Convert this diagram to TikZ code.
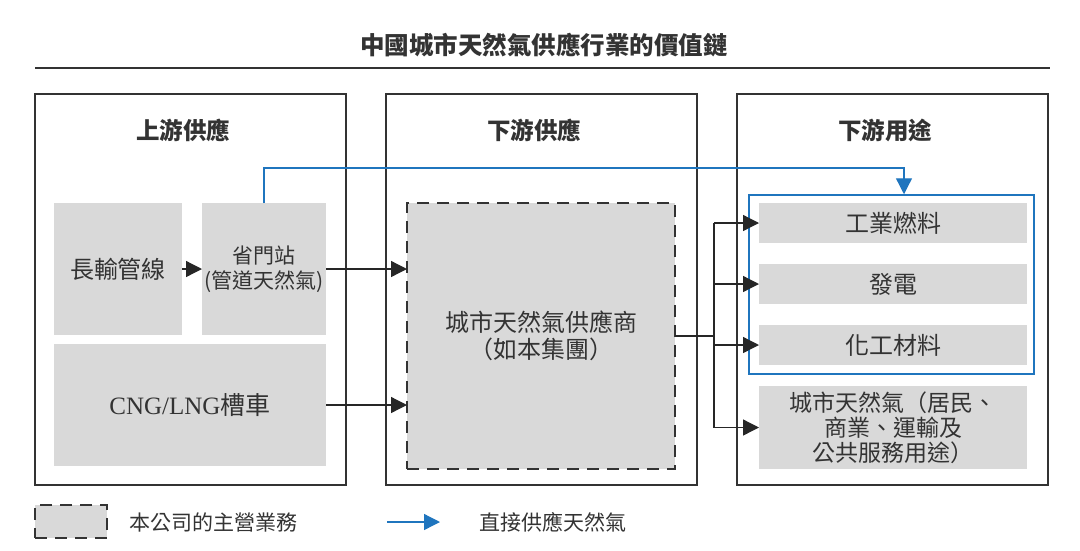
\documentclass[tikz,border=0pt]{standalone}
\usepackage{fontspec}
\setmainfont{Liberation Serif}
\newfontfamily\cjk{Noto Sans CJK TC}
\usetikzlibrary{positioning,calc,arrows.meta}
\definecolor{boxgray}{HTML}{D9D9D9}
\definecolor{inkgray}{HTML}{333333}
\definecolor{feedblue}{HTML}{1F75BE}
\tikzset{panel/.style={draw=inkgray,line width=1.3pt,minimum width=311pt,minimum height=391pt,inner sep=0pt,outer sep=0pt}  }
\tikzset{gbox/.style={fill=boxgray,text=inkgray,align=center,inner sep=0pt,outer sep=0pt,font=\cjk\fontsize{24}{27}\selectfont}  }
\tikzset{mainbiz/.style={gbox,draw=inkgray,line width=2pt,dash pattern=on 12pt off 8pt}  }
\tikzset{head/.style={text=inkgray,font=\cjk\bfseries\fontsize{23.5}{26}\selectfont}  }
\tikzset{flow/.style={-{Triangle[length=16pt,width=16pt]},draw=black!85,line width=1.3pt}  }
\tikzset{feed/.style={-{Triangle[length=16pt,width=16pt]},draw=feedblue,line width=1.3pt}  }

\begin{document}
\begin{tikzpicture}[x=1pt,y=-1pt]
	\useasboundingbox (0,0) rectangle (1080,550);
	\node[head,font=\cjk\bfseries\fontsize{24.5}{27}\selectfont] (title) at (544,45) {中國城市天然氣供應行業的價值鏈};
	\draw[inkgray,line width=2pt] (35,68) -- (1050,68);

		\node[panel] (up) at (190.5,289.5) {};
		\node[panel] (mid) at (541.5,289.5) {};
		\node[panel] (down) at (892.5,289.5) {};
		\node[head] (uph) at (183,130) {上游供應};
		\node[head] (midh) at (534,130) {下游供應};
		\node[head] (downh) at (885,130) {下游用途};

		% upstream
		\node[gbox,minimum width=128pt,minimum height=132pt] (pipe) at (118,269) {長輸管線};
		\node[gbox,minimum width=124pt,minimum height=132pt,font=\cjk\fontsize{21}{25}\selectfont] (gate) at (264,269) {省門站\\(管道天然氣)};
		\node[gbox,minimum width=272pt,minimum height=122pt,font=\cjk\fontsize{25}{28}\selectfont] (tank) at (190,405) {{\rmfamily CNG/LNG}槽車};

		% group
		\node[mainbiz,minimum width=268pt,minimum height=266pt] (city) at (541,336) {城市天然氣供應商\\（如本集團）};

		% uses
		\node[draw=feedblue,line width=1.5pt,minimum width=285pt,minimum height=179pt,inner sep=0pt] (direct) at (891.5,284.5) {};
		\node[gbox,minimum width=268pt,minimum height=40pt] (ind) at (893,223) {工業燃料};
		\node[gbox,minimum width=268pt,minimum height=40pt] (power) at (893,284) {發電};
		\node[gbox,minimum width=268pt,minimum height=40pt] (chem) at (893,345) {化工材料};
		\node[gbox,minimum width=268pt,minimum height=83pt,font=\cjk\fontsize{23}{25}\selectfont] (urban) at (893,427.5) {城市天然氣（居民、\\商業、運輸及\\公共服務用途）};

		\draw[flow] (pipe) -- (gate);
		\draw[flow] (gate.east) -- (gate.east -| city.west);
		\draw[flow] (tank.east) -- (tank.east -| city.west);
		\coordinate (split) at ([xshift=39pt]city.east);
		\draw[draw=black!85,line width=1.3pt] (city.east) -- (split)
			(split |- ind.west) -- (split |- urban.west);
		\foreach \u in {ind,power,chem,urban}
			\draw[flow] (split |- \u.west) -- (\u.west);
		\draw[feed] (gate.north) -- ++(0,-35) -| ([xshift=12.5pt]direct.north);

		% legend
		\node[mainbiz,minimum width=72pt,minimum height=33pt] (key) at (71,521.5) {};
		\node[anchor=west,text=inkgray,font=\cjk\fontsize{21}{24}\selectfont] (keyt) at (126,522) {本公司的主營業務};
		\coordinate (la) at (387,522);
		\coordinate (lb) at (440,522);
		\draw[feed] (la) -- (lb);
		\node[anchor=west,text=inkgray,font=\cjk\fontsize{21}{24}\selectfont] (lbt) at (476,522) {直接供應天然氣};
\end{tikzpicture}
\end{document}
